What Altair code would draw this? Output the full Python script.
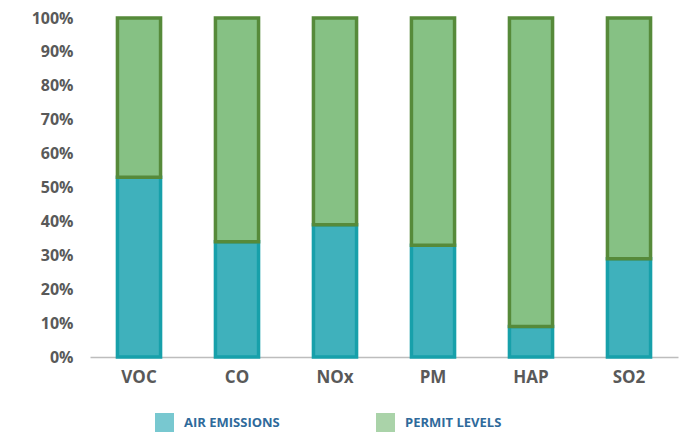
import altair as alt
import pandas as pd

# Pollutant categories and the share (%) of each bar taken by each series
pollutants = ["VOC", "CO", "NOx", "PM", "HAP", "SO2"]
air_emissions = [53, 34, 39, 33, 9, 29]
permit_levels = [47, 66, 61, 67, 91, 71]
series_names = ["AIR EMISSIONS", "PERMIT LEVELS"]
y_ticks = [0, 10, 20, 30, 40, 50, 60, 70, 80, 90, 100]

bar_fill = ["#3FB1BC", "#86C184"]
bar_stroke = ["#17A0AA", "#568A3A"]

FONT = "Open Sans"

# Stack the two series: air emissions at the bottom, permit levels on top
rows = []
for p, a in zip(pollutants, air_emissions):
    rows.append({"pollutant": p, "series": series_names[0], "start": 0, "end": a})
for p, a, g in zip(pollutants, air_emissions, permit_levels):
    rows.append({"pollutant": p, "series": series_names[1], "start": a, "end": a + g})
df = pd.DataFrame(rows)

x_enc = alt.X(
    "pollutant:N",
    sort=pollutants,
    title=None,
    scale=alt.Scale(paddingInner=0.56, paddingOuter=0.28),
    axis=alt.Axis(
        labelAngle=0,
        labelFont=FONT,
        labelFontSize=17,
        labelFontWeight="bold",
        labelColor="#595959",
        labelPadding=12,
        ticks=False,
        domainColor="#BDBDBD",
        domainWidth=1.5,
    ),
)
y_enc = alt.Y(
    "start:Q",
    title=None,
    scale=alt.Scale(domain=[0, 100], nice=False),
    axis=alt.Axis(
        values=y_ticks,
        labelExpr="datum.value + '%'",
        labelFont=FONT,
        labelFontSize=16,
        labelFontWeight="bold",
        labelColor="#595959",
        labelPadding=17,
        labelOverlap=False,
        grid=False,
        domain=False,
        ticks=False,
    ),
)

bars = alt.Chart(df).mark_bar(strokeWidth=3.5).encode(
    x=x_enc,
    y=y_enc,
    y2="end:Q",
    fill=alt.Fill(
        "series:N",
        scale=alt.Scale(domain=series_names, range=bar_fill),
        legend=alt.Legend(
            title=None,
            orient="none",
            direction="horizontal",
            legendX=65,
            legendY=395,
            symbolType="square",
            symbolSize=361,
            symbolOpacity=0.7,
            symbolStrokeWidth=0,
            labelFont=FONT,
            labelFontSize=13,
            labelFontWeight="bold",
            labelColor="#2F6A9B",
            labelOffset=10,
            columnPadding=96,
        ),
    ),
    stroke=alt.Stroke(
        "series:N",
        scale=alt.Scale(domain=series_names, range=bar_stroke),
        legend=None,
    ),
)

chart = (
    bars
    .properties(
        width=588,
        height=339,
        padding={"left": 90, "top": 18, "right": 10, "bottom": 80},
        autosize=alt.AutoSizeParams(type="none"),
    )
    .configure_view(stroke=None)
)

chart.save("out.html", embed_options={"renderer": "svg", "actions": False})
